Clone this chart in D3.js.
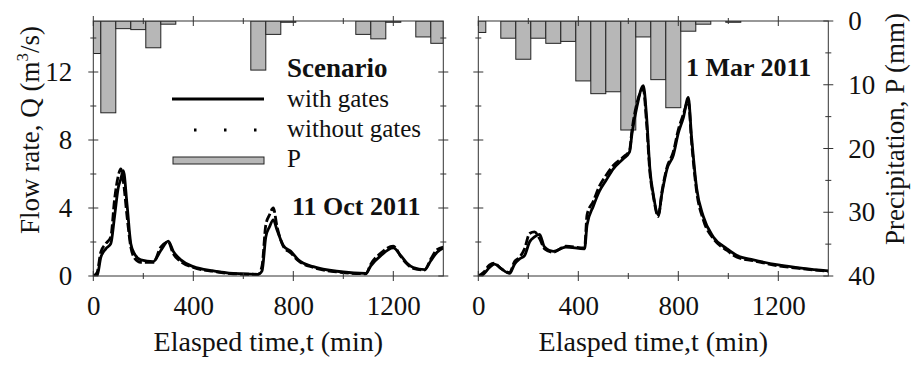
<!DOCTYPE html>
<html>
<head>
<meta charset="utf-8">
<script src="https://cdn.jsdelivr.net/npm/d3@7"></script>
<style>
  body { margin: 0; background: #fff; }
  text { font-family: "Liberation Serif", "Times New Roman", serif; fill: #111; }
</style>
</head>
<body>
<svg id="chart" width="913" height="368"></svg>
<script>
// time of each hourly rain bar (min), bars are one hour wide, centred on the hour
const rainHours = d3.range(0, 1440, 60);
const octRain = [5.1, 14.4, 1.2, 1.35, 4.2, 0.5, 0, 0, 0, 0, 0, 7.7, 2.1, 0.2, 0, 0, 0, 0, 2.1, 2.8, 0.2, 0, 2.5, 3.5];
const marRain = [1.8, 0, 2.7, 6.0, 2.7, 3.5, 3.2, 9.4, 11.4, 11.1, 17.1, 2.5, 9.2, 13.6, 1.6, 0.5, 0, 0.2, 0, 0, 0, 0, 0, 0];

// flow hydrographs
const octTime = [0, 15, 30, 50, 70, 85, 100, 110, 120, 135, 150, 165, 190, 240, 270, 300, 320, 350, 400, 480, 560, 660, 675, 690, 705, 720, 735, 760, 790, 820, 880, 990, 1090, 1110, 1150, 1200, 1230, 1255, 1280, 1325, 1350, 1375, 1400];
const octWith = [0, 0, 1.1, 1.6, 1.9, 3.5, 5.2, 5.7, 6.2, 4.2, 1.9, 1.3, 0.95, 0.85, 1.5, 2.05, 1.45, 0.95, 0.55, 0.3, 0.15, 0.1, 0.3, 2.3, 2.9, 3.3, 2.7, 1.8, 1.45, 0.95, 0.55, 0.25, 0.15, 0.6, 1.2, 1.65, 1.2, 0.75, 0.5, 0.38, 0.9, 1.4, 1.65];
const octWithout = [0, 0.2, 1.4, 1.9, 2.3, 4.5, 5.9, 6.3, 5.6, 3.5, 1.7, 1.05, 0.8, 0.8, 1.7, 2.0, 1.3, 0.85, 0.5, 0.28, 0.13, 0.1, 0.6, 3.0, 3.6, 4.0, 2.9, 1.75, 1.35, 0.9, 0.5, 0.22, 0.13, 0.7, 1.35, 1.75, 1.15, 0.7, 0.45, 0.35, 1.0, 1.55, 1.7];

const marTime = [0, 20, 45, 65, 90, 125, 145, 165, 185, 205, 225, 245, 265, 300, 350, 425, 435, 460, 485, 510, 540, 580, 605, 615, 635, 660, 673, 687, 700, 720, 735, 755, 780, 800, 820, 840, 853, 873, 900, 940, 995, 1035, 1100, 1200, 1300, 1400];
const marWith = [0, 0.1, 0.5, 0.7, 0.45, 0.15, 0.7, 1.0, 1.2, 2.0, 2.3, 2.45, 1.7, 1.45, 1.7, 1.6, 3.0, 4.1, 5.0, 5.6, 6.3, 6.9, 7.3, 8.4, 10.0, 11.2, 9.4, 6.2, 4.8, 3.6, 4.9, 6.3, 7.1, 8.4, 9.3, 10.5, 8.2, 5.2, 3.5, 2.3, 1.6, 1.2, 0.95, 0.65, 0.45, 0.3];
const marWithout = [0, 0.2, 0.65, 0.75, 0.45, 0.2, 0.85, 1.1, 1.6, 2.5, 2.6, 2.2, 1.6, 1.4, 1.75, 1.65, 3.6, 4.4, 5.3, 5.9, 6.5, 7.0, 7.4, 8.6, 10.2, 11.0, 9.0, 6.0, 4.7, 3.5, 5.0, 6.4, 7.3, 8.6, 9.5, 10.3, 7.9, 5.0, 3.3, 2.2, 1.5, 1.1, 0.9, 0.6, 0.42, 0.28];

const timeTicks = [0, 400, 800, 1200];
const qTicks = [0, 4, 8, 12];
const pTicks = [0, 10, 20, 30, 40];

const svg = d3.select('#chart');
const plotTop = 21, plotBottom = 276;
const yQ = d3.scaleLinear().domain([0, 15]).range([plotBottom, plotTop]);
const yP = d3.scaleLinear().domain([0, 40]).range([plotTop, plotBottom]);

const barFill = '#b7b7b7';
const axisColor = '#333';
const lineW = 2.8;

// ticks that cross the axis line, the way the original plot draws them
function crossTicksH(g, scale, values, y, len) {
    g.selectAll(null).data(values).enter().append('line')
        .attr('x1', d => scale(d)).attr('x2', d => scale(d))
        .attr('y1', y - len).attr('y2', y + len)
        .attr('stroke', axisColor).attr('stroke-width', 1);
}
function crossTicksV(g, scale, values, x, len) {
    g.selectAll(null).data(values).enter().append('line')
        .attr('y1', d => scale(d)).attr('y2', d => scale(d))
        .attr('x1', x - len).attr('x2', x + len)
        .attr('stroke', axisColor).attr('stroke-width', 1);
}

function drawPanel(opts) {
    const x = d3.scaleLinear().domain([0, 1400]).range(opts.range);
    const [x0, x1] = opts.range;
    const g = svg.append('g');

    const clipId = 'clip' + opts.id;
    svg.append('defs').append('clipPath').attr('id', clipId)
        .append('rect').attr('x', x0).attr('y', plotTop).attr('width', x1 - x0).attr('height', plotBottom - plotTop);

    // rain bars hanging from the top
    const bars = opts.rain.map((p, i) => ({ t: rainHours[i], p })).filter(d => d.p > 0);
    g.append('g').attr('clip-path', `url(#${clipId})`)
        .selectAll('rect').data(bars).enter().append('rect')
        .attr('x', d => x(Math.max(0, d.t - 30)))
        .attr('width', d => x(Math.min(1400, d.t + 30)) - x(Math.max(0, d.t - 30)))
        .attr('y', yP(0))
        .attr('height', d => yP(d.p) - yP(0))
        .attr('fill', barFill)
        .attr('stroke', '#222')
        .attr('stroke-width', 1);

    // hydrographs
    const line = d3.line().x(d => x(d[0])).y(d => yQ(d[1])).curve(d3.curveMonotoneX);
    const lines = g.append('g').attr('clip-path', `url(#${clipId})`);
    lines.append('path')
        .datum(opts.time.map((t, i) => [t, opts.without[i]]))
        .attr('d', line).attr('fill', 'none')
        .attr('stroke', '#000').attr('stroke-width', lineW)
        .attr('stroke-dasharray', '9,3');
    lines.append('path')
        .datum(opts.time.map((t, i) => [t, opts.with[i]]))
        .attr('d', line).attr('fill', 'none')
        .attr('stroke', '#000').attr('stroke-width', lineW);

    // frame
    g.append('rect').attr('x', x0).attr('y', plotTop).attr('width', x1 - x0).attr('height', plotBottom - plotTop)
        .attr('fill', 'none').attr('stroke', axisColor).attr('stroke-width', 1);

    const minorT = [200, 600, 1000];
    crossTicksH(g, x, timeTicks, plotBottom, 5);
    crossTicksH(g, x, minorT, plotBottom, 3);
    crossTicksH(g, x, timeTicks, plotTop, 5);
    crossTicksH(g, x, minorT, plotTop, 3);

    const qMajor = [0, 4, 8, 12], qMinor = [2, 6, 10, 14];
    crossTicksV(g, yQ, qMajor, x0, 5);
    crossTicksV(g, yQ, qMinor, x0, 3);
    if (opts.id === 'oct') {
        crossTicksV(g, yQ, qMajor, x1, 5);
        crossTicksV(g, yQ, qMinor, x1, 3);
    } else {
        crossTicksV(g, yP, pTicks, x1, 5);
        crossTicksV(g, yP, [5, 15, 25, 35], x1, 3);
    }

    // tick labels via d3 axis
    const xAxis = d3.axisBottom(x).tickValues(timeTicks).tickFormat(d3.format('d'))
        .tickSize(0).tickPadding(20);
    const ax = g.append('g').attr('transform', `translate(0,${plotBottom})`).call(xAxis);
    ax.select('.domain').remove();
    ax.selectAll('text').attr('font-size', 27).attr('fill', '#111');

    g.append('text')
        .attr('x', (x0 + x1) / 2).attr('y', 351)
        .attr('text-anchor', 'middle').attr('font-size', 28)
        .text('Elasped time,t (min)');

    g.append('text')
        .attr('x', opts.dateX).attr('y', opts.dateY)
        .attr('font-size', 26).attr('font-weight', 'bold')
        .text(opts.date);

    return x;
}

drawPanel({
    id: 'oct', range: [93.3, 443.3], rain: octRain,
    time: octTime, with: octWith, without: octWithout,
    date: '11 Oct 2011', dateX: 292, dateY: 215
});
drawPanel({
    id: 'mar', range: [478.3, 828.3], rain: marRain,
    time: marTime, with: marWith, without: marWithout,
    date: '1 Mar 2011', dateX: 686, dateY: 76
});

// left Q labels
const qAxis = svg.append('g').attr('transform', 'translate(93.3,0)')
    .call(d3.axisLeft(yQ).tickValues(qTicks).tickSize(0).tickPadding(21));
qAxis.select('.domain').remove();
qAxis.selectAll('text').attr('font-size', 27).attr('fill', '#111');

// right P labels
const pAxis = svg.append('g').attr('transform', 'translate(828.3,0)')
    .call(d3.axisRight(yP).tickValues(pTicks).tickSize(0).tickPadding(20));
pAxis.select('.domain').remove();
pAxis.selectAll('text').attr('font-size', 27).attr('fill', '#111');

// axis titles
const qTitle = svg.append('text')
    .attr('transform', 'translate(39,130) rotate(-90)')
    .attr('text-anchor', 'middle').attr('font-size', 27);
qTitle.append('tspan').text('Flow rate, Q (m');
qTitle.append('tspan').attr('font-size', 17).attr('dy', -11).text('3');
qTitle.append('tspan').attr('dy', 11).text('/s)');

svg.append('text')
    .attr('transform', 'translate(904,129) rotate(-90)')
    .attr('text-anchor', 'middle').attr('font-size', 27)
    .text('Precipitation, P (mm)');

// legend
const leg = svg.append('g');
leg.append('text').attr('x', 287).attr('y', 77).attr('font-size', 27).attr('font-weight', 'bold').text('Scenario');
leg.append('line').attr('x1', 172).attr('x2', 264).attr('y1', 99).attr('y2', 99)
    .attr('stroke', '#000').attr('stroke-width', lineW);
leg.append('text').attr('x', 287).attr('y', 107).attr('font-size', 25).text('with gates');
leg.append('line').attr('x1', 194).attr('x2', 264).attr('y1', 130).attr('y2', 130)
    .attr('stroke', '#000').attr('stroke-width', lineW).attr('stroke-dasharray', '2.5,27.5');
leg.append('text').attr('x', 287).attr('y', 137).attr('font-size', 25).text('without gates');
leg.append('rect').attr('x', 173).attr('y', 157).attr('width', 91).attr('height', 7)
    .attr('fill', barFill).attr('stroke', '#222').attr('stroke-width', 1);
leg.append('text').attr('x', 287).attr('y', 167).attr('font-size', 25).text('P');
</script>
</body>
</html>
